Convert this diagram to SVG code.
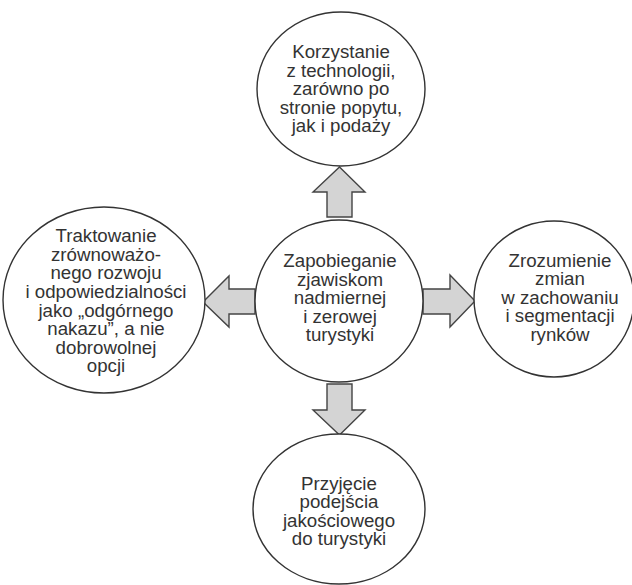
<svg xmlns="http://www.w3.org/2000/svg" width="632" height="585" viewBox="0 0 632 585">
<style>
.n{fill:#fff;stroke:#333;stroke-width:1.4}
.a{fill:#d4d4d4;stroke:#444;stroke-width:1.4;stroke-linejoin:miter}
text{font-family:"Liberation Sans",Arial,sans-serif;font-size:18.7px;fill:#333;text-anchor:middle}
</style>
<rect width="632" height="585" fill="#fff"/>
<g id="connectors">
<polygon class="a" points="327,217 352,217 352,192 365,192 339.5,167 313,192 327,192"/>
<polygon class="a" points="327,384 352,384 352,410 365,410 339.5,435 313,410 327,410"/>
<polygon class="a" points="423,289 450,289 450,275 475,301 450,327 450,314 423,314"/>
<polygon class="a" points="255,289 229,289 229,276 203,302 229,327 229,314 255,314"/>
</g>
<g id="top">
<ellipse class="n" cx="341" cy="89" rx="84" ry="77"/>
<text x="341" y="58">Korzystanie</text>
<text x="341" y="76.6">z technologii,</text>
<text x="341" y="95.2">zarówno po</text>
<text x="341" y="113.8">stronie popytu,</text>
<text x="341" y="132.4">jak i podaży</text>
</g>
<g id="center">
<ellipse class="n" cx="339" cy="301" rx="84" ry="81"/>
<text x="340" y="267">Zapobieganie</text>
<text x="340" y="285.6">zjawiskom</text>
<text x="340" y="304.2">nadmiernej</text>
<text x="340" y="322.8">i zerowej</text>
<text x="340" y="341.4">turystyki</text>
</g>
<g id="left">
<ellipse class="n" cx="104" cy="300" rx="101" ry="93"/>
<text x="106" y="242.2">Traktowanie</text>
<text x="106" y="260.8">zrównoważo-</text>
<text x="106" y="279.4">nego rozwoju</text>
<text x="106" y="298">i odpowiedzialności</text>
<text x="106" y="316.6">jako „odgórnego</text>
<text x="106" y="335.2">nakazu”, a nie</text>
<text x="106" y="353.8">dobrowolnej</text>
<text x="106" y="372.4">opcji</text>
</g>
<g id="right">
<ellipse class="n" cx="554" cy="299" rx="80" ry="78"/>
<text x="560" y="266.5">Zrozumienie</text>
<text x="560" y="285.1">zmian</text>
<text x="560" y="303.7">w zachowaniu</text>
<text x="560" y="322.3">i segmentacji</text>
<text x="560" y="340.9">rynków</text>
</g>
<g id="bottom">
<ellipse class="n" cx="339" cy="509" rx="86" ry="75"/>
<text x="339" y="489.5">Przyjęcie</text>
<text x="339" y="508.1">podejścia</text>
<text x="339" y="526.7">jakościowego</text>
<text x="339" y="545.3">do turystyki</text>
</g>
</svg>
